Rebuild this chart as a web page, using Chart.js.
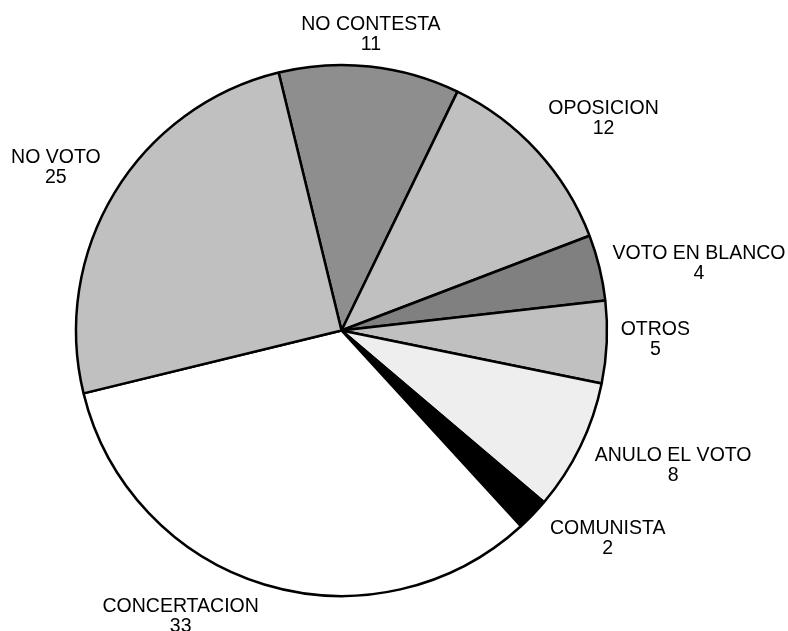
<!DOCTYPE html>
<html>
<head>
<meta charset="utf-8">
<script src="https://cdn.jsdelivr.net/npm/chart.js@4"></script>
<style>
  html, body { margin: 0; padding: 0; background: #ffffff; }
  #wrap { width: 788px; height: 631px; }
</style>
</head>
<body>
<div id="wrap"><canvas id="pieChart" width="788" height="631"></canvas></div>
<script>
// data (percent of answers)
const categories = ['NO CONTESTA', 'OPOSICION', 'VOTO EN BLANCO', 'OTROS', 'ANULO EL VOTO', 'COMUNISTA', 'CONCERTACION', 'NO VOTO'];
const values = [11, 12, 4, 5, 8, 2, 33, 25];

// slice fills, same order as categories
const sliceColors = ['#8e8e8e', '#c0c0c0', '#808080', '#c0c0c0', '#eeeeee', '#000000', '#ffffff', '#c0c0c0'];

// small hand nudges for the outside labels (px), same order
const labelNudge = [[-8, 0], [13, -11], [-1, 2], [-3, -6], [7, 3], [21, -1], [-56, -2], [-6, -9]];

const FONT_SIZE = 19.5;
const LINE_GAP = 20;
const LABEL_GAP = 17;

// draws "NAME / value" outside each slice, placed from the arc geometry
const outsideLabels = {
    id: 'outsideLabels',
    afterDatasetsDraw(chart) {
        const ctx = chart.ctx;
        const meta = chart.getDatasetMeta(0);
        ctx.save();
        ctx.font = FONT_SIZE + 'px "Liberation Sans", Arial, sans-serif';
        ctx.fillStyle = '#000000';
        ctx.textAlign = 'center';
        ctx.textBaseline = 'alphabetic';
        meta.data.forEach(function (arc, i) {
            const p = arc.getProps(['x', 'y', 'startAngle', 'endAngle', 'outerRadius'], true);
            const mid = (p.startAngle + p.endAngle) / 2;
            const dx = Math.cos(mid);
            const dy = Math.sin(mid);
            const w = ctx.measureText(categories[i]).width;
            const h = 34;
            const d = p.outerRadius + LABEL_GAP;
            const cx = p.x + dx * d + dx * w / 2 + labelNudge[i][0];
            const cy = p.y + dy * d + dy * h / 2 + labelNudge[i][1];
            ctx.fillText(categories[i], cx, cy - 3);
            ctx.fillText(String(values[i]), cx, cy - 3 + LINE_GAP);
        });
        ctx.restore();
    }
};

const config = {
    type: 'pie',
    data: {
        labels: categories,
        datasets: [{
            data: values,
            backgroundColor: sliceColors,
            borderColor: '#000000',
            borderWidth: 2.5,
            hoverOffset: 0
        }]
    },
    options: {
        responsive: false,
        animation: false,
        rotation: -13.7,
        radius: 265.5,
        layout: {
            padding: { left: 1, right: 106, top: 31, bottom: 1 }
        },
        plugins: {
            legend: { display: false },
            tooltip: { enabled: false }
        },
        events: []
    },
    plugins: [outsideLabels]
};

// Render the chart
const pieChart = new Chart(document.getElementById('pieChart'), config);
</script>
</body>
</html>
